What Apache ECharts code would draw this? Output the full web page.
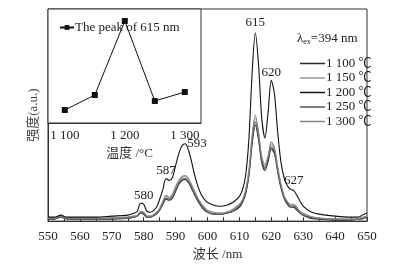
<!DOCTYPE html>
<html>
<head>
<meta charset="utf-8">
<script src="https://cdn.jsdelivr.net/npm/echarts@6/dist/echarts.min.js"></script>
<style>
  html, body { margin: 0; padding: 0; background: #fff; }
  #chart { width: 397px; height: 266px; }
</style>
</head>
<body>
<div id="chart"></div>
<script>
// wavelength grid (nm) shared by all spectra
const wavelengths = [550,552,554,556,560,565,570,575,577,578,579,580,581,582,584,585,586,587,588,589,590,591,592,593,594,595,596,597,598,599,600,602,604,606,608,610,611,612,613,614,615,616,617,618,619,620,621,622,623,624,625,626,627,628,629,630,632,635,640,645,647,648,649,650];

// emission intensities (a.u.)
const s1100 = [2,2,4,2,2,2,2,3,4,5,8,7,4,4,7,11,17,22,21,23,30,37,41,42,39,33,26,20,15,11,9,7,7,8,10,14,19,28,46,78,97,82,59,51,60,73,68,50,34,23,17,14,14,11,8,6,3,2,1,1,2,2,3,4];
const s1150 = [3,3,5,3,3,3,3,4,5,6,9,8,5,5,8,12,19,25,23,26,33,40,44,45,42,36,29,22,17,13,10,8,8,9,11,16,21,31,50,84,104,88,63,55,64,78,72,53,36,25,19,16,16,13,9,7,4,3,2,2,2,3,4,5];
const s1200 = [4,4,6,4,4,4,5,6,8,10,18,17,10,9,14,22,32,43,41,44,56,68,76,78,72,60,46,35,27,22,19,16,15,16,19,25,32,47,84,150,190,158,104,84,110,142,128,90,60,44,36,32,31,26,20,15,10,7,5,4,4,5,7,8];
const s1250 = [2,2,4,2,2,2,3,3,4,5,8,8,4,4,8,11,18,23,22,24,31,38,42,43,40,34,27,21,16,12,9,7,7,8,10,15,20,29,48,81,100,85,61,53,62,75,70,51,35,24,18,15,15,12,8,6,4,2,2,1,2,2,3,4];
const s1300 = [3,3,5,3,3,3,3,4,5,6,10,9,5,5,9,13,20,26,24,27,35,41,45,46,43,37,30,23,18,14,11,9,8,9,12,17,22,32,52,87,107,90,65,57,66,80,74,55,38,26,20,17,17,14,10,8,5,3,2,2,2,3,4,5];

const seriesNames = ['1 100 ℃', '1 150 ℃', '1 200 ℃', '1 250 ℃', '1 300 ℃'];
const seriesColors = ['#2a2a2a', '#9a9a9a', '#111111', '#555555', '#858585'];

// peak labels on the 1 200 ℃ curve
const peakNm = [580, 587, 593, 615, 620, 627];
const peakVal = [18, 43, 78, 190, 142, 31];

// inset: 615 nm peak vs temperature
const temps = [1100, 1150, 1200, 1250, 1300];
const peak615 = [13, 28, 102, 22, 31];

const font = "'Liberation Serif', 'Noto Sans CJK SC', serif";

const pair = arr => wavelengths.map((w, i) => [w, arr[i]]);
const spectra = [s1100, s1150, s1200, s1250, s1300];

const labelOpts = {
  580: { position: 'top', distance: 1 },
  587: { position: 'top', distance: 1 },
  593: { position: 'right', distance: 2 },
  615: { position: 'top', distance: 4 },
  620: { position: 'top', distance: 1 },
  627: { position: 'top', distance: 3 }
};

const chart = echarts.init(document.getElementById('chart'));

const mainSeries = [0, 1, 3, 4, 2].map(k => {
  const s = {
    name: seriesNames[k],
    type: 'line',
    xAxisIndex: 0,
    yAxisIndex: 0,
    data: pair(spectra[k]),
    smooth: 0.3,
    symbol: 'none',
    lineStyle: { color: seriesColors[k], width: 1.1 },
    itemStyle: { color: seriesColors[k] },
    z: k === 2 ? 5 : 3
  };
  if (k === 2) {
    s.markPoint = {
      symbol: 'circle',
      symbolSize: 0,
      data: peakNm.map((nm, i) => ({
        name: String(nm),
        coord: [nm, peakVal[i]],
        label: Object.assign({
          show: true,
          formatter: '{b}',
          color: '#222',
          fontFamily: font,
          fontSize: 13
        }, labelOpts[nm])
      }))
    };
  }
  return s;
});

chart.setOption({
  animation: false,
  backgroundColor: '#fff',
  textStyle: { fontFamily: font },
  grid: [
    { left: 48, right: 30, top: 9, bottom: 43, show: true, borderColor: '#333', borderWidth: 1 },
    { left: 48, top: 9, width: 153, height: 114, show: true, borderColor: '#333', borderWidth: 1, backgroundColor: '#fff', z: 4 }
  ],
  title: {
    left: 292,
    top: 26,
    text: '{a|λ}{b|ex}{a|=394 nm}',
    textStyle: {
      fontWeight: 'normal',
      rich: {
        a: { fontFamily: font, fontSize: 13, color: '#222', fontWeight: 'normal' },
        b: { fontFamily: font, fontSize: 8, color: '#222', fontWeight: 'normal', padding: [7, 0, 0, 0] }
      }
    }
  },
  legend: [
    {
      data: seriesNames,
      orient: 'vertical',
      left: 295,
      top: 52,
      icon: 'rect',
      itemWidth: 25,
      itemHeight: 1.5,
      itemGap: 1.5,
      textStyle: { fontFamily: font, fontSize: 13, color: '#222', padding: [0, 0, 0, -4], lineHeight: 13 }
    },
    {
      data: ['The peak of 615 nm'],
      left: 54,
      top: 16,
      itemWidth: 14,
      itemHeight: 6,
      textStyle: { fontFamily: font, fontSize: 13, color: '#222', padding: [0, 0, 0, -4] }
    }
  ],
  xAxis: [
    {
      gridIndex: 0,
      type: 'value',
      min: 550,
      max: 650,
      interval: 5,
      name: '波长 /nm',
      nameLocation: 'middle',
      nameGap: 26,
      nameTextStyle: { fontFamily: font, fontSize: 13, color: '#333', padding: [0, 0, 0, 20] },
      axisLine: { lineStyle: { color: '#333' } },
      axisTick: { inside: true, length: 4, lineStyle: { color: '#333' } },
      axisLabel: {
        margin: 9,
        fontFamily: font,
        fontSize: 13,
        color: '#222',
        formatter: v => (v % 10 === 0 ? String(v) : '')
      },
      splitLine: { show: false }
    },
    {
      gridIndex: 1,
      type: 'value',
      min: 1072,
      max: 1327,
      name: '温度 /°C',
      nameLocation: 'middle',
      nameGap: 24,
      nameTextStyle: { fontFamily: font, fontSize: 13, color: '#333', padding: [0, 0, 0, 10] },
      axisLine: { lineStyle: { color: '#333' } },
      axisTick: { inside: true, length: 4, customValues: [1100, 1150, 1200, 1250, 1300], lineStyle: { color: '#333' } },
      axisLabel: {
        margin: 6,
        fontFamily: font,
        fontSize: 13,
        color: '#222',
        customValues: [1100, 1200, 1300],
        formatter: v => String(v).replace(/^(\d)(\d{3})$/, '$1 $2')
      },
      splitLine: { show: false }
    }
  ],
  yAxis: [
    {
      gridIndex: 0,
      type: 'value',
      min: 0,
      max: 214,
      name: '强度(a.u.)',
      nameLocation: 'middle',
      nameRotate: 90,
      nameGap: 8,
      nameTextStyle: { fontFamily: font, fontSize: 13, color: '#444' },
      axisLine: { lineStyle: { color: '#333' } },
      axisTick: { show: false },
      axisLabel: { show: false },
      splitLine: { show: false }
    },
    {
      gridIndex: 1,
      type: 'value',
      min: 0,
      max: 114,
      axisLine: { show: false },
      axisTick: { show: false },
      axisLabel: { show: false },
      splitLine: { show: false }
    }
  ],
  series: mainSeries.concat([
    {
      name: 'The peak of 615 nm',
      type: 'line',
      xAxisIndex: 1,
      yAxisIndex: 1,
      data: temps.map((t, i) => [t, peak615[i]]),
      symbol: 'rect',
      symbolSize: 6,
      lineStyle: { color: '#111', width: 1 },
      itemStyle: { color: '#111' },
      z: 6
    }
  ])
});
</script>
</body>
</html>
